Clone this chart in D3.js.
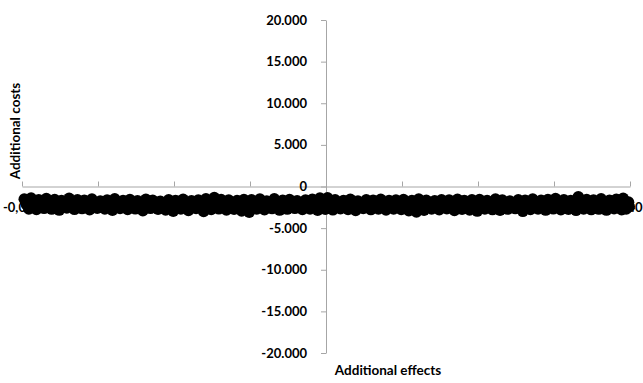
<!DOCTYPE html>
<html>
<head>
<meta charset="utf-8">
<script src="https://cdn.jsdelivr.net/npm/d3@7"></script>
<style>
  body { margin: 0; background: #fff; }
  text { font-family: Lato, "Open Sans", sans-serif; font-weight: bold; fill: #000; }
</style>
</head>
<body>
<div id="container"></div>
<script>

// Incremental effects (x) and incremental costs (y) of the bootstrap replicates
const effects = [
  -0.0397,-0.0394,-0.0391, -0.0388,-0.0384,-0.0381, -0.0378,-0.0375,-0.0371, -0.0368,-0.0364,-0.0361,
  -0.0357,-0.0354,-0.0351, -0.0348,-0.0345,-0.0341, -0.0338,-0.0334,-0.0331, -0.0327,-0.0324,-0.0321,
  -0.0318,-0.0315,-0.0311, -0.0308,-0.0304,-0.0301, -0.0297,-0.0294,-0.0291, -0.0288,-0.0285,-0.0281,
  -0.0278,-0.0274,-0.0271, -0.0267,-0.0264,-0.0261, -0.0258,-0.0255,-0.0251, -0.0248,-0.0244,-0.0241,
  -0.0237,-0.0234,-0.0231, -0.0228,-0.0225,-0.0221, -0.0218,-0.0214,-0.0211, -0.0207,-0.0204,-0.0201,
  -0.0198,-0.0195,-0.0191, -0.0188,-0.0184,-0.0181, -0.0177,-0.0174,-0.0171, -0.0168,-0.0165,-0.0161,
  -0.0158,-0.0154,-0.0151, -0.0147,-0.0144,-0.0141, -0.0138,-0.0135,-0.0131, -0.0128,-0.0124,-0.0121,
  -0.0117,-0.0114,-0.0111, -0.0108,-0.0105,-0.0101, -0.0098,-0.0094,-0.0091, -0.0087,-0.0084,-0.0081,
  -0.0078,-0.0075,-0.0071, -0.0068,-0.0064,-0.0061, -0.0057,-0.0054,-0.0051, -0.0048,-0.0045,-0.0041,
  -0.0038,-0.0034,-0.0031, -0.0027,-0.0024,-0.0021, -0.0018,-0.0015,-0.0011, -0.0008,-0.0004,-0.0001,
  0.0002,0.0005,0.0009, 0.0012,0.0016,0.0019, 0.0023,0.0026,0.0029, 0.0032,0.0035,0.0039,
  0.0042,0.0046,0.0049, 0.0053,0.0056,0.0059, 0.0062,0.0065,0.0069, 0.0072,0.0076,0.0079,
  0.0083,0.0086,0.0089, 0.0092,0.0095,0.0099, 0.0102,0.0106,0.0109, 0.0113,0.0116,0.0119,
  0.0122,0.0125,0.0129, 0.0132,0.0136,0.0139, 0.0143,0.0146,0.0149, 0.0152,0.0155,0.0159,
  0.0162,0.0166,0.0169, 0.0173,0.0176,0.0179, 0.0182,0.0185,0.0189, 0.0192,0.0196,0.0199,
  0.0202,0.0205,0.0209, 0.0212,0.0216,0.0219, 0.0223,0.0226,0.0229, 0.0232,0.0235,0.0239,
  0.0242,0.0246,0.0249, 0.0253,0.0256,0.0259, 0.0262,0.0265,0.0269, 0.0272,0.0276,0.0279,
  0.0283,0.0286,0.0289, 0.0292,0.0295,0.0299, 0.0302,0.0306,0.0309, 0.0313,0.0316,0.0319,
  0.0322,0.0325,0.0329, 0.0332,0.0336,0.0339, 0.0343,0.0346,0.0349, 0.0352,0.0355,0.0359,
  0.0362,0.0366,0.0369, 0.0373,0.0376,0.0379, 0.0382,0.0385,0.0389, 0.0391,0.0393,0.0395,
  0.0398,0.0399
];

const costs = [
  -1520,-2180,-2690, -1380,-2050,-2760, -1610,-2240,-2620, -1450,-1990,-2710,
  -1560,-2120,-2830, -1700,-2210,-2580, -1420,-2080,-2740, -1590,-2300,-2650,
  -1660,-2140,-2790, -1510,-1960,-2600, -1740,-2260,-2700, -1630,-2030,-2850,
  -1480,-2170,-2640, -1690,-2250,-2760, -1570,-2110,-2680, -1720,-2010,-2900,
  -1540,-2190,-2620, -1650,-2280,-2730, -1790,-2070,-2810, -1600,-2220,-2960,
  -1680,-2130,-2700, -1550,-2040,-2870, -1710,-2260,-2640, -1620,-2180,-2990,
  -1470,-2090,-2750, -1330,-2210,-2680, -1580,-2300,-2810, -1640,-2050,-2720,
  -1700,-2160,-2940, -1560,-2240,-3080, -1610,-2120,-2700, -1520,-2010,-2780,
  -1750,-2200,-2650, -1490,-2090,-2830, -1660,-2270,-2710, -1580,-2150,-2620,
  -1720,-2040,-2760, -1630,-2230,-2690, -1540,-2110,-2840, -1400,-2190,-2730,
  -1370,-2060,-2800, -1600,-2250,-2670, -1690,-2140,-2750, -1550,-2020,-2880,
  -1740,-2200,-2640, -1610,-2290,-2770, -1660,-2080,-2700, -1530,-2170,-2820,
  -1700,-2240,-2690, -1620,-2060,-2760, -1580,-2190,-2910, -1680,-2130,-3060,
  -1510,-2270,-2840, -1650,-2050,-2700, -1720,-2180,-2790, -1590,-2220,-2660,
  -1640,-2100,-2880, -1540,-2260,-2730, -1700,-2160,-2810, -1610,-2030,-2950,
  -1560,-2200,-2690, -1680,-2280,-2770, -1500,-2090,-2840, -1630,-2170,-2710,
  -1740,-2240,-2650, -1590,-2060,-2980, -1670,-2190,-2760, -1520,-2120,-2700,
  -1650,-2250,-2830, -1580,-2040,-2680, -1450,-2180,-2790, -1600,-2230,-2720,
  -1690,-2110,-2860, -1250,-2200,-2690, -1560,-2070,-2770, -1630,-2160,-2710,
  -1480,-2240,-2830, -1660,-2090,-2660, -1540,-2210,-2790, -1420,-2130,-2700,
  -1880,-2420
];

const xTicks = [-0.04, -0.03, -0.02, -0.01, 0, 0.01, 0.02, 0.03, 0.04];
const xTickLabels = ["-0,040", "-0,030", "-0,020", "-0,010", "0,000", "0,010", "0,020", "0,030", "0,040"];
const yTicks = [20000, 15000, 10000, 5000, 0, -5000, -10000, -15000, -20000];
const yTickLabels = ["20.000", "15.000", "10.000", "5.000", "0", "-5.000", "-10.000", "-15.000", "-20.000"];

const width = 643;
const height = 383;

const x = d3.scaleLinear().domain([-0.04, 0.04]).range([22, 630]);
const y = d3.scaleLinear().domain([-20000, 20000]).range([353, 20]);

const svg = d3.create("svg")
    .attr("width", width)
    .attr("height", height);

container.append(svg.node());

const axisColor = "#a6a6a6";

// horizontal axis (crosses at cost = 0), ticks point up
const xAxis = svg.append("g")
    .attr("transform", `translate(0,${y(0)})`)
    .call(d3.axisTop(x).tickValues(xTicks).tickSize(5).tickSizeOuter(0).tickFormat(() => ""));
xAxis.selectAll("path, line").attr("stroke", axisColor);

// x tick labels sit below the axis (mostly hidden by the point cloud)
const xLabels = svg.append("g").selectAll("text")
    .data(xTicks)
    .join("text")
    .attr("x", d => x(d))
    .attr("y", y(0) + 25)
    .attr("text-anchor", "middle")
    .attr("font-size", "13px")
    .text((d, i) => xTickLabels[i]);

// keep labels inside the chart area, as the spreadsheet does
xLabels.each(function() {
  const b = this.getBBox();
  if (b.x + b.width > width) d3.select(this).attr("x", +d3.select(this).attr("x") - (b.x + b.width - width));
  if (b.x < 0) d3.select(this).attr("x", +d3.select(this).attr("x") - b.x);
});

// vertical axis (crosses at effect = 0), ticks point left
const yAxis = svg.append("g")
    .attr("transform", `translate(${x(0)},0)`)
    .call(d3.axisLeft(y).tickValues(yTicks).tickSize(5).tickSizeOuter(0).tickFormat(() => ""));
yAxis.selectAll("path, line").attr("stroke", axisColor);

svg.append("g").selectAll("text")
    .data(yTicks)
    .join("text")
    .attr("x", x(0) - 19)
    .attr("y", d => y(d))
    .attr("dy", "0.35em")
    .attr("text-anchor", "end")
    .attr("font-size", "13px")
    .text((d, i) => yTickLabels[i]);

// point cloud
svg.append("g").selectAll("circle")
    .data(effects.map((e, i) => [e, costs[i]]))
    .join("circle")
    .attr("cx", d => x(d[0]))
    .attr("cy", d => y(d[1]))
    .attr("r", 5.8)
    .attr("fill", "#000");

// axis titles
svg.append("text")
    .attr("transform", "translate(20,131) rotate(-90)")
    .attr("text-anchor", "middle")
    .attr("font-size", "13.5px")
    .text("Additional costs");

svg.append("text")
    .attr("x", 388)
    .attr("y", 375)
    .attr("text-anchor", "middle")
    .attr("font-size", "13.5px")
    .text("Additional effects");

</script>
</body>
</html>
